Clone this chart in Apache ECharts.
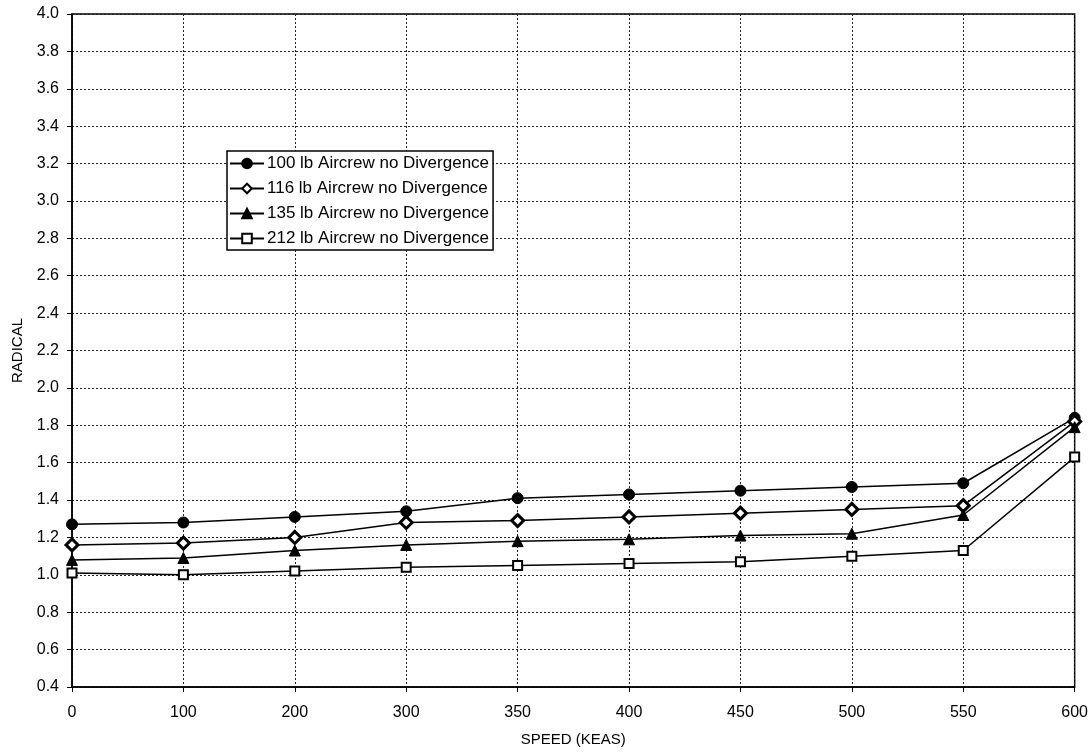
<!DOCTYPE html>
<html>
<head>
<meta charset="utf-8">
<script src="https://cdn.jsdelivr.net/npm/echarts@6/dist/echarts.min.js"></script>
<style>
  html, body { margin: 0; padding: 0; background: #fff; }
  #chart { width: 1091px; height: 752px; }
</style>
</head>
<body>
<div id="chart"></div>
<script>
// Airspeed categories (KEAS)
const speeds = ['0', '100', '200', '300', '350', '400', '450', '500', '550', '600'];

// Radical values per aircrew weight, no divergence
const aircrew100 = [1.27, 1.28, 1.31, 1.34, 1.41, 1.43, 1.45, 1.47, 1.49, 1.84];
const aircrew116 = [1.16, 1.17, 1.20, 1.28, 1.29, 1.31, 1.33, 1.35, 1.37, 1.82];
const aircrew135 = [1.08, 1.09, 1.13, 1.16, 1.18, 1.19, 1.21, 1.22, 1.32, 1.79];
const aircrew212 = [1.01, 1.00, 1.02, 1.04, 1.05, 1.06, 1.07, 1.10, 1.13, 1.63];

const seriesNames = [
  '100 lb Aircrew no Divergence',
  '116 lb Aircrew no Divergence',
  '135 lb Aircrew no Divergence',
  '212 lb Aircrew no Divergence'
];

const FONT = '"Liberation Sans", Arial, sans-serif';

function lineSeries(name, data, symbol, size, fill, border) {
  return {
    name: name,
    type: 'line',
    data: data,
    symbol: symbol,
    symbolSize: size,
    showAllSymbol: true,
    lineStyle: { color: '#000', width: 1.5 },
    itemStyle: { color: fill, borderColor: '#000', borderWidth: border },
    emphasis: { disabled: true },
    animation: false
  };
}

const chart = echarts.init(document.getElementById('chart'));
chart.setOption({
  backgroundColor: '#fff',
  animation: false,
  grid: {
    left: 72, right: 16, top: 14, bottom: 65,
    show: true, borderColor: '#000', borderWidth: 1.5
  },
  legend: {
    orient: 'vertical',
    left: 227, top: 151,
    padding: [4, 4, 3, 2],
    backgroundColor: '#fff',
    borderColor: '#000',
    borderWidth: 1.5,
    itemWidth: 34,
    itemHeight: 12,
    itemGap: 8,
    textStyle: { fontFamily: FONT, fontSize: 17, color: '#000', padding: [0, 0, 0, -2] },
    data: seriesNames
  },
  xAxis: {
    type: 'category',
    data: speeds,
    boundaryGap: false,
    name: 'SPEED (KEAS)',
    nameLocation: 'middle',
    nameGap: 45,
    nameTextStyle: { fontFamily: FONT, fontSize: 15, color: '#000' },
    axisLine: { lineStyle: { color: '#000', width: 1.5 } },
    axisTick: { show: true, alignWithLabel: true, length: 5, lineStyle: { color: '#000' } },
    axisLabel: { fontFamily: FONT, fontSize: 16, color: '#000', margin: 18 },
    splitLine: { show: true, lineStyle: { color: '#222', width: 1, type: [2, 2] } }
  },
  yAxis: {
    type: 'value',
    min: 0.4, max: 4.0, interval: 0.2,
    name: 'RADICAL',
    nameLocation: 'middle',
    nameGap: 45,
    nameTextStyle: { fontFamily: FONT, fontSize: 15, color: '#000' },
    axisLine: { show: true, lineStyle: { color: '#000', width: 1.5 } },
    axisTick: { show: true, length: 5, lineStyle: { color: '#000' } },
    axisLabel: {
      fontFamily: FONT, fontSize: 16, color: '#000', margin: 13,
      formatter: v => v.toFixed(1)
    },
    splitLine: { show: true, lineStyle: { color: '#222', width: 1, type: [2, 2] } }
  },
  series: [
    lineSeries(seriesNames[0], aircrew100, 'circle', 11, '#000', 1),
    lineSeries(seriesNames[1], aircrew116, 'diamond', 12, '#fff', 3),
    lineSeries(seriesNames[2], aircrew135, 'triangle', 11, '#000', 1),
    lineSeries(seriesNames[3], aircrew212, 'rect', 9, '#fff', 2)
  ]
});
</script>
</body>
</html>
